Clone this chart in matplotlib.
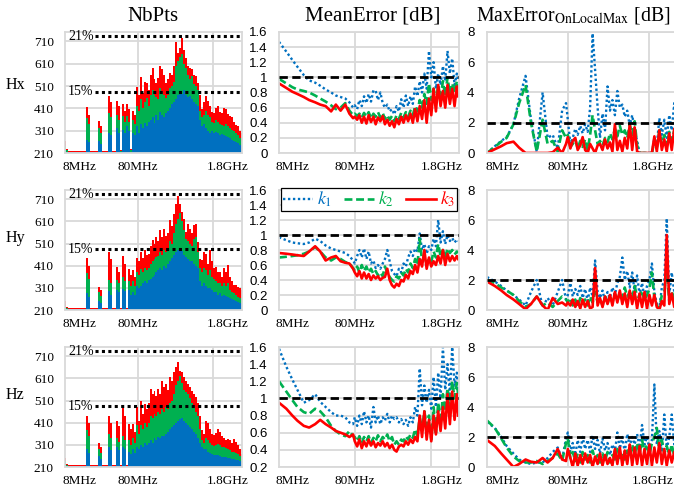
import matplotlib.pyplot as plt

plt.rcParams['font.family'] = ['Liberation Serif', 'DejaVu Serif']
plt.rcParams['mathtext.fontset'] = 'stix'

# ---- NbPts (stacked look, per frequency bin index) ----
hx_pts_k3 = [262, 228, 217, 217, 217, 217, 217, 217, 217, 217,
             217, 415, 380, 217, 217, 217, 217, 352, 330, 217,
             217, 217, 465, 440, 217, 217, 445, 420, 222, 430,
             400, 430, 405, 230, 400, 380, 507, 470, 552, 480,
             530, 525, 490, 560, 590, 540, 525, 545, 600, 585,
             560, 525, 540, 570, 560, 600, 705, 660, 682, 727,
             670, 637, 600, 592, 585, 560, 555, 525, 470, 405,
             440, 465, 445, 420, 395, 390, 410, 420, 395, 390,
             412, 405, 385, 375, 370, 350, 335, 330, 310, 300]
hx_pts_k2 = [240, 222, 215, 215, 215, 215, 215, 215, 215, 215,
             215, 367, 340, 215, 215, 215, 215, 322, 300, 215,
             215, 215, 390, 370, 215, 215, 382, 360, 218, 375,
             350, 375, 350, 222, 360, 340, 420, 400, 450, 410,
             440, 455, 420, 470, 490, 470, 460, 450, 500, 480,
             470, 455, 470, 500, 510, 530, 600, 620, 640, 652,
             610, 590, 560, 540, 555, 520, 510, 490, 400, 370,
             380, 400, 380, 370, 350, 345, 360, 350, 340, 335,
             330, 340, 330, 320, 315, 310, 300, 290, 275, 265]
hx_pts_k1 = [222, 216, 213, 213, 213, 213, 213, 213, 213, 213,
             213, 270, 260, 213, 213, 213, 213, 262, 250, 213,
             213, 213, 300, 290, 213, 213, 322, 300, 214, 315,
             300, 330, 310, 216, 300, 290, 330, 300, 340, 320,
             345, 330, 350, 360, 370, 345, 380, 360, 395, 380,
             370, 390, 400, 410, 430, 440, 450, 470, 480, 475,
             490, 470, 460, 465, 450, 440, 430, 420, 360, 330,
             340, 320, 310, 300, 310, 300, 305, 300, 290, 295,
             290, 285, 280, 275, 270, 265, 260, 255, 245, 240]

hy_pts_k3 = [250, 225, 217, 217, 217, 217, 217, 217, 217, 217,
             217, 445, 410, 217, 217, 217, 217, 315, 300, 217,
             217, 217, 470, 440, 217, 217, 405, 380, 217, 453,
             420, 217, 397, 370, 390, 360, 447, 430, 472, 445,
             480, 460, 465, 500, 525, 510, 540, 520, 570, 540,
             577, 545, 560, 615, 590, 645, 690, 727, 690, 652,
             620, 562, 600, 577, 560, 592, 600, 517, 440, 435,
             470, 465, 420, 480, 430, 400, 405, 380, 382, 360,
             400, 380, 412, 360, 340, 325, 322, 315, 310, 300]
hy_pts_k2 = [230, 220, 215, 215, 215, 215, 215, 215, 215, 215,
             215, 375, 350, 215, 215, 215, 215, 290, 275, 215,
             215, 215, 345, 330, 215, 215, 345, 330, 215, 360,
             340, 215, 340, 320, 340, 320, 380, 370, 395, 380,
             400, 390, 400, 420, 430, 440, 450, 455, 470, 460,
             480, 470, 490, 520, 510, 560, 600, 620, 650, 610,
             570, 530, 520, 510, 500, 530, 540, 470, 400, 380,
             400, 390, 370, 390, 360, 350, 340, 330, 330, 320,
             330, 320, 330, 300, 290, 285, 280, 270, 265, 255]
hy_pts_k1 = [220, 215, 213, 213, 213, 213, 213, 213, 213, 213,
             213, 285, 270, 213, 213, 213, 213, 250, 240, 213,
             213, 213, 295, 280, 213, 213, 300, 290, 213, 307,
             295, 213, 300, 280, 290, 280, 320, 310, 320, 330,
             340, 330, 345, 350, 360, 370, 380, 390, 400, 390,
             410, 400, 420, 430, 445, 460, 470, 480, 490, 475,
             460, 450, 440, 430, 430, 420, 410, 400, 340, 320,
             330, 320, 310, 310, 300, 290, 290, 280, 285, 275,
             280, 275, 270, 265, 260, 255, 250, 245, 240, 235]

hz_pts_k3 = [250, 225, 217, 217, 217, 217, 217, 217, 217, 217,
             217, 442, 410, 217, 217, 217, 217, 318, 300, 217,
             217, 217, 442, 410, 217, 217, 420, 395, 217, 480,
             440, 217, 405, 380, 405, 370, 480, 420, 510, 450,
             495, 470, 500, 562, 540, 555, 530, 562, 540, 600,
             570, 585, 560, 615, 600, 637, 660, 682, 645, 640,
             615, 600, 585, 570, 555, 540, 525, 500, 440, 375,
             360, 420, 410, 380, 360, 355, 365, 382, 370, 350,
             340, 330, 337, 330, 320, 335, 325, 310, 290, 270]
hz_pts_k2 = [235, 220, 215, 215, 215, 215, 215, 215, 215, 215,
             215, 375, 350, 215, 215, 215, 215, 290, 275, 215,
             215, 215, 360, 340, 215, 215, 340, 325, 215, 350,
             330, 215, 330, 310, 340, 320, 400, 360, 400, 380,
             410, 390, 410, 440, 430, 450, 440, 460, 450, 470,
             460, 480, 470, 500, 510, 540, 580, 600, 620, 590,
             560, 550, 540, 520, 500, 480, 460, 440, 380, 330,
             320, 340, 330, 320, 310, 305, 310, 315, 310, 300,
             300, 295, 290, 285, 280, 280, 275, 270, 260, 250]
hz_pts_k1 = [220, 215, 213, 213, 213, 213, 213, 213, 213, 213,
             213, 292, 275, 213, 213, 213, 213, 260, 245, 213,
             213, 213, 300, 285, 213, 213, 300, 285, 213, 300,
             290, 213, 280, 270, 290, 275, 300, 290, 310, 300,
             320, 310, 320, 330, 320, 340, 330, 345, 340, 350,
             350, 360, 370, 380, 390, 400, 410, 420, 425, 430,
             420, 410, 400, 390, 380, 370, 360, 340, 320, 300,
             290, 290, 280, 275, 270, 265, 265, 265, 260, 255,
             255, 255, 250, 250, 245, 245, 240, 240, 235, 230]

pts_ticks = ['8MHz', '80MHz', '1.8GHz']

# ---- error curves, frequency in MHz ----
freq = [8, 10, 12, 14, 17, 20, 24, 28, 33, 39,
        45, 52, 60, 68, 76, 80, 86, 92, 99, 106,
        114, 122, 131, 141, 151, 162, 174, 187, 200, 215,
        231, 248, 266, 285, 306, 328, 352, 378, 405, 435,
        467, 501, 537, 576, 618, 663, 711, 763, 818, 878,
        942, 1010, 1085, 1165, 1250, 1340, 1440, 1545, 1660, 1780,
        1850]

hx_mean_k1 = [1.47, 1.34, 1.23, 1.14, 1.03, 0.96, 0.93, 0.89, 0.84, 0.80,
              0.76, 0.74, 0.72, 0.67, 0.60, 0.63, 0.58, 0.70, 0.62, 0.75,
              0.66, 0.78, 0.68, 0.83, 0.82, 0.70, 0.80, 0.66, 0.60, 0.64,
              0.55, 0.58, 0.51, 0.62, 0.55, 0.71, 0.60, 0.76, 0.62, 0.75,
              0.65, 0.88, 0.75, 0.95, 0.80, 1.05, 0.85, 1.35, 1.00, 1.20,
              0.85, 1.05, 0.90, 1.15, 0.95, 1.35, 1.05, 1.25, 0.90, 1.05,
              0.95]
hx_mean_k2 = [0.98, 0.92, 0.87, 0.84, 0.82, 0.80, 0.76, 0.72, 0.68, 0.63,
              0.58, 0.60, 0.66, 0.56, 0.50, 0.52, 0.49, 0.52, 0.47, 0.53,
              0.48, 0.54, 0.46, 0.52, 0.48, 0.54, 0.47, 0.53, 0.45, 0.50,
              0.44, 0.49, 0.42, 0.50, 0.45, 0.53, 0.47, 0.54, 0.48, 0.56,
              0.50, 0.62, 0.55, 0.70, 0.60, 0.78, 0.65, 0.92, 0.70, 0.85,
              0.68, 0.90, 0.72, 0.95, 0.75, 1.00, 0.78, 0.92, 0.80, 0.95,
              0.85]
hx_mean_k3 = [0.92, 0.86, 0.81, 0.78, 0.74, 0.70, 0.67, 0.64, 0.62, 0.55,
              0.64, 0.56, 0.64, 0.52, 0.46, 0.48, 0.44, 0.50, 0.40, 0.48,
              0.39, 0.50, 0.41, 0.48, 0.38, 0.47, 0.42, 0.49, 0.38, 0.44,
              0.36, 0.42, 0.34, 0.45, 0.38, 0.48, 0.40, 0.50, 0.42, 0.52,
              0.40, 0.58, 0.42, 0.62, 0.45, 0.70, 0.40, 0.72, 0.50, 0.85,
              0.55, 0.90, 0.62, 0.82, 0.60, 0.90, 0.65, 0.85, 0.62, 0.88,
              0.75]

hy_mean_k1 = [0.97, 0.93, 0.90, 0.89, 0.88, 0.90, 0.95, 0.92, 0.86, 0.82,
              0.80, 0.78, 0.76, 0.72, 0.66, 0.62, 0.72, 0.80, 0.70, 0.82,
              0.68, 0.78, 0.62, 0.66, 0.56, 0.60, 0.55, 0.62, 0.68, 0.80,
              0.65, 0.52, 0.48, 0.45, 0.55, 0.50, 0.62, 0.58, 0.70, 0.78,
              0.72, 0.82, 0.78, 1.02, 0.80, 0.88, 0.75, 0.85, 0.80, 0.95,
              0.85, 1.20, 0.90, 1.05, 0.88, 1.00, 0.92, 0.96, 0.90, 0.94,
              0.92]
hy_mean_k2 = [0.70, 0.71, 0.72, 0.73, 0.75, 0.78, 0.84, 0.78, 0.70, 0.66,
              0.70, 0.68, 0.64, 0.62, 0.56, 0.52, 0.58, 0.50, 0.60, 0.52,
              0.58, 0.50, 0.55, 0.48, 0.52, 0.46, 0.50, 0.45, 0.58, 0.50,
              0.44, 0.40, 0.38, 0.45, 0.42, 0.50, 0.46, 0.55, 0.50, 0.62,
              0.56, 0.68, 0.60, 0.95, 0.65, 0.72, 0.62, 0.68, 0.64, 0.78,
              0.70, 0.88, 0.72, 0.80, 0.70, 0.82, 0.76, 0.80, 0.74, 0.78,
              0.76]
hy_mean_k3 = [0.76, 0.75, 0.74, 0.73, 0.72, 0.78, 0.85, 0.78, 0.66, 0.70,
              0.72, 0.65, 0.63, 0.62, 0.55, 0.50, 0.45, 0.52, 0.42, 0.50,
              0.42, 0.48, 0.40, 0.46, 0.42, 0.45, 0.40, 0.43, 0.44, 0.55,
              0.40, 0.33, 0.30, 0.35, 0.32, 0.40, 0.38, 0.47, 0.42, 0.52,
              0.48, 0.60, 0.50, 0.68, 0.58, 0.80, 0.55, 0.70, 0.58, 0.65,
              0.60, 0.72, 0.62, 0.80, 0.60, 0.75, 0.65, 0.72, 0.66, 0.72,
              0.68]

hz_mean_k1 = [1.58, 1.37, 1.22, 1.10, 0.95, 0.98, 1.05, 0.96, 0.90, 0.84,
              0.80, 0.80, 0.78, 0.72, 0.70, 0.78, 0.68, 0.80, 0.70, 0.85,
              0.72, 0.80, 0.66, 0.90, 0.72, 0.80, 0.70, 0.78, 0.74, 0.82,
              0.72, 0.80, 0.76, 0.78, 0.72, 0.76, 0.70, 0.75, 0.68, 0.78,
              0.72, 0.90, 0.80, 1.35, 0.92, 1.15, 0.95, 1.10, 0.88, 1.25,
              0.90, 1.30, 1.00, 1.60, 1.10, 1.40, 1.05, 1.60, 1.15, 1.30,
              1.10]
hz_mean_k2 = [1.20, 1.08, 0.98, 0.90, 0.84, 0.82, 0.88, 0.85, 0.78, 0.68,
              0.62, 0.58, 0.56, 0.62, 0.56, 0.55, 0.50, 0.56, 0.48, 0.55,
              0.50, 0.56, 0.48, 0.54, 0.50, 0.57, 0.50, 0.55, 0.52, 0.58,
              0.50, 0.55, 0.46, 0.50, 0.46, 0.52, 0.50, 0.56, 0.52, 0.58,
              0.54, 0.64, 0.56, 0.78, 0.62, 0.85, 0.68, 0.80, 0.52, 0.90,
              0.60, 0.95, 0.70, 1.05, 0.85, 1.12, 0.90, 1.20, 1.00, 1.18,
              1.05]
hz_mean_k3 = [0.95, 0.88, 0.80, 0.74, 0.68, 0.66, 0.70, 0.75, 0.70, 0.66,
              0.62, 0.60, 0.58, 0.55, 0.58, 0.50, 0.44, 0.52, 0.42, 0.50,
              0.44, 0.52, 0.45, 0.50, 0.43, 0.48, 0.45, 0.50, 0.44, 0.48,
              0.42, 0.46, 0.40, 0.38, 0.44, 0.46, 0.44, 0.50, 0.46, 0.52,
              0.48, 0.55, 0.50, 0.80, 0.55, 0.85, 0.52, 0.75, 0.50, 0.80,
              0.58, 0.85, 0.62, 0.90, 0.65, 1.05, 0.70, 1.08, 0.75, 1.05,
              0.80]

hx_max_k1 = [0.00, 0.45, 0.80, 1.05, 1.90, 3.60, 5.10, 2.20, 0.10, 4.00,
             1.00, 1.20, 0.30, 2.80, 3.30, 2.20, 0.60, 1.00, 1.60, 1.20,
             1.80, 1.30, 1.90, 1.40, 3.00, 7.90, 5.50, 3.00, 1.00, 2.60,
             1.50, 4.40, 2.80, 3.50, 2.50, 4.10, 3.00, 3.20, 2.40, 2.80,
             1.80, 2.50, 1.50, 0.80, 0.00, 0.00, 0.00, 0.00, 0.00, 0.00,
             1.00, 0.50, 2.30, 1.20, 2.20, 1.00, 2.50, 1.50, 3.30, 1.80,
             2.60]
hx_max_k2 = [0.00, 0.40, 0.75, 1.00, 1.90, 3.30, 4.50, 2.00, 0.10, 2.20,
             0.60, 0.80, 0.10, 1.50, 1.00, 1.20, 0.40, 0.60, 0.90, 0.30,
             0.80, 0.40, 0.90, 0.20, 1.20, 2.50, 1.50, 0.60, 0.80, 0.50,
             1.00, 0.70, 1.30, 0.90, 1.60, 1.10, 1.80, 1.20, 1.50, 1.00,
             1.90, 1.20, 2.10, 0.50, 0.00, 0.00, 0.00, 0.00, 0.00, 0.00,
             0.80, 0.30, 1.50, 0.60, 1.20, 0.50, 1.40, 0.80, 1.50, 0.60,
             1.20]
hx_max_k3 = [0.00, 0.25, 0.45, 0.65, 0.75, 0.35, 0.00, 0.00, 0.00, 0.00,
             0.00, 0.05, 0.35, 0.00, 0.60, 1.05, 0.30, 0.80, 1.00, 0.20,
             0.50, 1.05, 0.20, 0.00, 0.60, 0.30, 0.00, 0.50, 0.60, 0.20,
             0.90, 0.30, 0.70, 0.10, 1.90, 0.20, 0.80, 0.10, 1.00, 0.30,
             1.90, 0.20, 1.70, 0.10, 0.00, 0.00, 0.00, 0.00, 0.00, 0.00,
             1.10, 0.10, 1.50, 0.20, 0.90, 0.10, 1.30, 0.20, 1.60, 0.30,
             1.40]

hy_max_k1 = [2.20, 1.90, 1.60, 1.30, 1.00, 0.70, 0.30, 1.20, 2.00, 0.20,
             0.80, 0.30, 1.20, 2.00, 0.70, 1.00, 1.80, 0.90, 1.40, 1.00,
             1.60, 0.80, 1.40, 0.60, 1.50, 0.90, 3.30, 1.20, 0.80, 1.30,
             0.60, 1.20, 0.80, 1.50, 1.00, 1.80, 2.20, 3.50, 2.00, 2.60,
             1.50, 2.50, 1.20, 2.30, 1.00, 1.80, 0.80, 1.60, 2.00, 3.10,
             1.20, 0.40, 0.10, 1.50, 2.00, 6.10, 1.00, 2.50, 1.20, 1.80,
             1.00]
hy_max_k2 = [2.00, 1.80, 1.50, 1.30, 1.00, 0.60, 0.20, 0.40, 0.90, 0.30,
             0.50, 0.20, 0.60, 0.90, 0.70, 0.50, 0.80, 0.30, 0.70, 0.20,
             0.80, 0.40, 0.70, 0.30, 0.90, 0.50, 1.20, 0.50, 0.80, 0.30,
             0.90, 0.40, 1.00, 0.50, 1.10, 0.60, 1.20, 0.80, 1.50, 0.90,
             1.20, 0.80, 1.60, 0.90, 0.90, 1.30, 0.60, 1.00, 1.40, 2.50,
             0.80, 0.30, 0.10, 1.00, 1.20, 2.50, 0.60, 1.20, 0.80, 1.00,
             0.70]
hy_max_k3 = [1.90, 1.60, 1.30, 1.00, 0.70, 0.40, 0.05, 0.40, 0.90, 0.30,
             0.00, 0.80, 0.40, 0.50, 0.30, 0.50, 0.30, 0.70, 0.20, 0.60,
             0.10, 0.70, 0.20, 0.60, 0.10, 0.20, 2.80, 0.30, 0.80, 0.20,
             0.90, 0.40, 1.00, 0.30, 1.20, 0.50, 1.30, 0.40, 1.10, 0.20,
             1.30, 0.40, 1.20, 0.10, 1.10, 0.20, 1.20, 0.10, 1.00, 0.30,
             1.00, 0.20, 0.00, 0.60, 0.30, 5.00, 0.40, 1.10, 0.20, 0.90,
             0.30]

hz_max_k1 = [3.00, 2.60, 2.00, 1.40, 0.90, 0.50, 0.30, 0.20, 0.30, 0.30,
             0.60, 1.00, 1.30, 0.50, 1.90, 2.30, 1.00, 1.60, 0.80, 1.80,
             1.00, 2.00, 1.20, 1.80, 1.00, 2.10, 1.20, 1.80, 0.90, 1.90,
             1.10, 1.60, 0.80, 1.50, 1.00, 2.30, 1.20, 2.00, 1.00, 2.20,
             1.40, 2.00, 1.50, 2.20, 1.30, 2.80, 1.50, 2.00, 1.20, 1.80,
             5.50, 1.50, 2.40, 1.00, 3.50, 1.20, 2.00, 3.50, 1.50, 2.20,
             1.40]
hz_max_k2 = [3.10, 2.60, 1.90, 1.30, 0.70, 0.40, 0.30, 0.30, 0.40, 0.20,
             0.40, 0.60, 0.90, 0.40, 1.60, 1.90, 0.60, 1.00, 0.40, 0.90,
             0.30, 1.00, 0.50, 0.80, 0.30, 1.10, 0.50, 0.80, 0.30, 0.90,
             0.40, 1.00, 0.30, 0.80, 0.50, 1.20, 0.60, 1.00, 0.50, 1.10,
             0.70, 1.50, 0.80, 1.60, 0.90, 1.80, 1.00, 1.50, 0.80, 1.60,
             2.00, 2.60, 1.00, 1.80, 0.90, 1.40, 0.80, 1.50, 0.70, 1.20,
             0.80]
hz_max_k3 = [1.80, 1.40, 0.90, 0.50, 0.00, 0.20, 0.50, 0.35, 0.30, 0.60,
             0.30, 0.60, 1.20, 0.50, 0.40, 1.20, 0.60, 0.00, 0.90, 0.10,
             0.80, 0.20, 0.90, 0.30, 0.80, 0.00, 0.70, 0.20, 0.90, 0.10,
             0.80, 0.20, 0.60, 0.10, 1.20, 0.20, 1.30, 0.10, 1.10, 0.20,
             1.50, 0.10, 1.30, 0.20, 1.40, 0.10, 1.20, 0.20, 1.50, 0.10,
             1.30, 0.30, 1.60, 0.20, 1.20, 0.10, 1.10, 0.30, 1.00, 0.20,
             0.90]

row_names = ['Hx', 'Hy', 'Hz']
pts_rows = [(hx_pts_k1, hx_pts_k2, hx_pts_k3),
            (hy_pts_k1, hy_pts_k2, hy_pts_k3),
            (hz_pts_k1, hz_pts_k2, hz_pts_k3)]
mean_rows = [(hx_mean_k1, hx_mean_k2, hx_mean_k3),
             (hy_mean_k1, hy_mean_k2, hy_mean_k3),
             (hz_mean_k1, hz_mean_k2, hz_mean_k3)]
max_rows = [(hx_max_k1, hx_max_k2, hx_max_k3),
            (hy_max_k1, hy_max_k2, hy_max_k3),
            (hz_max_k1, hz_max_k2, hz_max_k3)]

BLUE = '#0070C0'
GREEN = '#00B050'
RED = '#FF0000'
GRID = '#D9D9D9'
SANS = 'Liberation Sans'

W, H = 674, 494
col_x = [(65, 242), (279, 459), (487, 679)]
row_y = [(32, 153), (190, 310), (347, 467)]

fig = plt.figure(figsize=(W / 100, H / 100), dpi=100)


def make_ax(c, r):
    x0, x1 = col_x[c]
    y0, y1 = row_y[r]
    ax = fig.add_axes([x0 / W, 1 - y1 / H, (x1 - x0) / W, (y1 - y0) / H])
    ax.set_axisbelow(True)
    for s in ax.spines.values():
        s.set_color(GRID)
        s.set_linewidth(1.3)
    ax.grid(True, which='major', color=GRID, lw=1.3)
    ax.xaxis.remove_overlapping_locs = False
    ax.tick_params(which='both', length=0)
    ax.tick_params(axis='x', which='minor', pad=6, labelsize=9.5)
    return ax


def freq_axis(ax, label_pos):
    ax.set_xscale('log')
    ax.set_xlim(8, 1900)
    ax.set_xticks([80, 800], ['', ''])
    ax.set_xticks(label_pos, pts_ticks, minor=True)


for r in range(3):
    # NbPts
    ax = make_ax(0, r)
    k1, k2, k3 = pts_rows[r]
    idx = list(range(len(k1)))
    ax.fill_between(idx, 210, k3, step='mid', color=RED, lw=0)
    ax.fill_between(idx, 210, k2, step='mid', color=GREEN, lw=0)
    ax.fill_between(idx, 210, k1, step='mid', color=BLUE, lw=0)
    ax.set_xlim(0, 89)
    ax.set_ylim(210, 752)
    ax.set_xticks([36.7, 74.4], ['', ''])
    ax.set_xticks([7.5, 36.7, 82.0], pts_ticks, minor=True)
    ax.set_yticks([210, 310, 410, 510, 610, 710])
    ax.tick_params(axis='y', pad=8, labelsize=9.5)
    for lvl, txt in [(732, '21%'), (485, '15%')]:
        ax.axhline(lvl, xmin=0.17, xmax=0.99, color='black', ls=(0, (1, 1.1)), lw=2.2)
        ax.text(1.5, lvl, txt, ha='left', va='center', fontsize=10)
    fig.text(15 / W, 1 - (85 + [0, 153, 310][r]) / H, row_names[r],
             ha='center', va='center', fontsize=11.5)

    # MeanError
    ax = make_ax(1, r)
    freq_axis(ax, [12.2, 80, 1130])
    k1, k2, k3 = mean_rows[r]
    l1, = ax.plot(freq, k1, color=BLUE, ls=(0, (1, 1.1)), lw=1.7)
    l2, = ax.plot(freq, k2, color=GREEN, ls=(0, (3, 1.4)), lw=1.9)
    l3, = ax.plot(freq, k3, color=RED, lw=1.9)
    ax.axhline(1, color='black', ls=(0, (3, 1.6)), lw=2.0, zorder=5)
    if r == 2:
        yt = [0.2, 0.4, 0.6, 0.8, 1, 1.2, 1.4, 1.6]
        ax.set_ylim(0.2, 1.6)
    else:
        yt = [0, 0.2, 0.4, 0.6, 0.8, 1, 1.2, 1.4, 1.6]
        ax.set_ylim(0, 1.6)
    ax.set_yticks(yt, [('%g' % v) for v in yt])
    ax.tick_params(axis='y', pad=8)
    for t in ax.get_yticklabels():
        t.set_fontfamily(SANS)
        t.set_fontsize(9.5)
    if r == 1:
        leg = ax.legend([l1, l2, l3], [r'$k_1$', r'$k_2$', r'$k_3$'], ncol=3,
                        loc='upper left', bbox_to_anchor=(0.01, 1.015, 0.98, 0.0),
                        mode='expand', fontsize=13, handlelength=1.7,
                        handletextpad=0.2, borderpad=0.1, borderaxespad=0,
                        fancybox=False, framealpha=1, edgecolor='black')
        leg.get_frame().set_linewidth(0.9)
        for t, c in zip(leg.get_texts(), [BLUE, GREEN, RED]):
            t.set_color(c)

    # MaxError on local max
    ax = make_ax(2, r)
    freq_axis(ax, [12.3, 80, 890])
    k1, k2, k3 = max_rows[r]
    ax.plot(freq, k1, color=BLUE, ls=(0, (1, 1.1)), lw=1.7)
    ax.plot(freq, k2, color=GREEN, ls=(0, (3, 1.4)), lw=1.9)
    ax.plot(freq, k3, color=RED, lw=1.9)
    ax.axhline(2, color='black', ls=(0, (3, 1.6)), lw=2.0, zorder=5)
    ax.set_ylim(0, 8)
    ax.set_yticks([0, 2, 4, 6, 8])
    ax.tick_params(axis='y', pad=9)
    for t in ax.get_yticklabels():
        t.set_fontfamily(SANS)
        t.set_fontsize(9.5)

fig.text(153 / W, 1 - 21 / H, 'NbPts', ha='center', va='baseline', fontsize=15)
fig.text(373 / W, 1 - 21 / H, 'MeanError [dB]', ha='center', va='baseline', fontsize=15)
fig.text(476 / W, 1 - 21 / H, r'MaxError$_{\mathrm{OnLocalMax}}$ [dB]',
         ha='left', va='baseline', fontsize=14.2)

fig.savefig('out.png', dpi=100)
